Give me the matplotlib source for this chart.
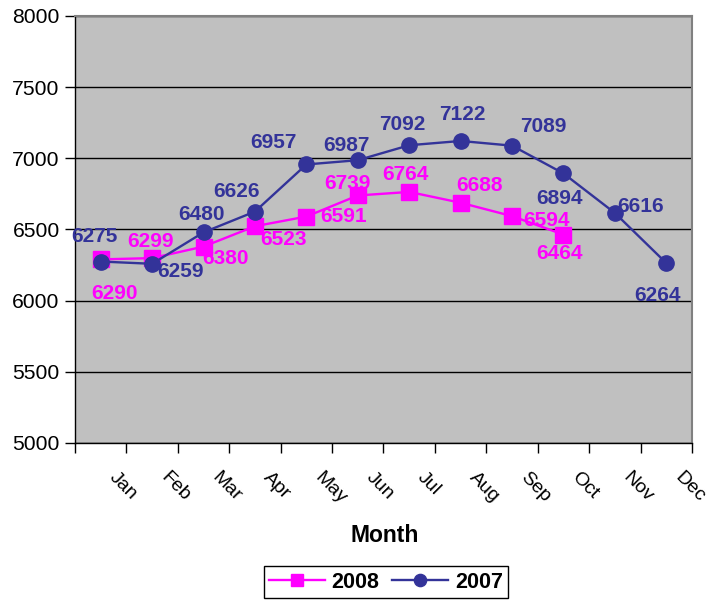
import matplotlib.pyplot as plt
import numpy as np

plt.rcParams['font.family'] = ['Liberation Sans', 'DejaVu Sans']

months = ['Jan', 'Feb', 'Mar', 'Apr', 'May', 'Jun', 'Jul', 'Aug', 'Sep', 'Oct', 'Nov', 'Dec']
sales_2008 = [6290, 6299, 6380, 6523, 6591, 6739, 6764, 6688, 6594, 6464]
sales_2007 = [6275, 6259, 6480, 6626, 6957, 6987, 7092, 7122, 7089, 6894, 6616, 6264]

# label offsets in pixels (dx, dy), dy positive = up
off_2008 = [(14, -34), (-2, 17), (22, -12), (29, -13), (37, 0), (-10, 12),
            (-4, 17), (19, 17), (34, -4), (-4, -19)]
off_2007 = [(-6, 25), (28, -8), (-2, 18), (-18, 20), (-33, 22), (-11, 15),
            (-7, 21), (2, 26), (31, 19), (-4, -25), (26, 6), (-9, -32)]

c08 = '#FF00FF'
c07 = '#333399'

fig = plt.figure(figsize=(7.21, 6.0), dpi=100)
ax = fig.add_axes([75/721, 1-443/600, 617/721, 427/600])
ax.set_facecolor('#C0C0C0')

x07 = np.arange(len(sales_2007))
x08 = np.arange(len(sales_2008))

l08, = ax.plot(x08, sales_2008, color=c08, lw=1.7, marker='s', ms=11, label='2008', zorder=3)
l07, = ax.plot(x07, sales_2007, color=c07, lw=1.7, marker='o', ms=11, label='2007', zorder=3)

for xi, v, o in zip(x08, sales_2008, off_2008):
    ax.annotate(str(v), (xi, v), xytext=o, textcoords='offset pixels', ha='center', va='center',
                color=c08, fontsize=15, fontweight='bold', zorder=4)
for xi, v, o in zip(x07, sales_2007, off_2007):
    ax.annotate(str(v), (xi, v), xytext=o, textcoords='offset pixels', ha='center', va='center',
                color=c07, fontsize=15, fontweight='bold', zorder=4)

ax.set_ylim(5000, 8000)
ax.set_yticks(np.arange(5000, 8001, 500))
ax.set_xlim(-0.5, 11.5)
ax.set_xticks(np.arange(-0.5, 12, 1))
ax.set_xticklabels([])
ax.yaxis.grid(True, color='black', lw=1)
ax.set_axisbelow(True)
ax.tick_params(axis='y', direction='out', length=7, width=1, labelsize=15.2, pad=4)
ax.tick_params(axis='x', direction='out', length=7, width=1)

for s in ['top', 'right']:
    ax.spines[s].set_color('#808080')
    ax.spines[s].set_linewidth(1.5)
for s in ['left', 'bottom']:
    ax.spines[s].set_color('black')
    ax.spines[s].set_linewidth(1)

# rotated month labels
for i, m in enumerate(months):
    ax.annotate(m, (i, 0), xycoords=('data', 'axes fraction'), xytext=(11, -32),
                textcoords='offset pixels', rotation=-45, rotation_mode='anchor',
                ha='left', va='center', fontsize=14)

fig.text(385/721, 1-535/600, 'Month', ha='center', va='center', fontsize=16.5, fontweight='bold')

leg = fig.legend(handles=[l08, l07], loc='center', bbox_to_anchor=(386/721, 1-582/600), ncol=2,
                 frameon=True, fancybox=False, edgecolor='black', framealpha=1,
                 prop={'weight': 'bold', 'size': 15.5}, handlelength=2.6, columnspacing=0.6,
                 handletextpad=0.3, borderpad=0.25, markerscale=0.8)
leg.get_frame().set_linewidth(1)

fig.savefig('out.png', dpi=100)
